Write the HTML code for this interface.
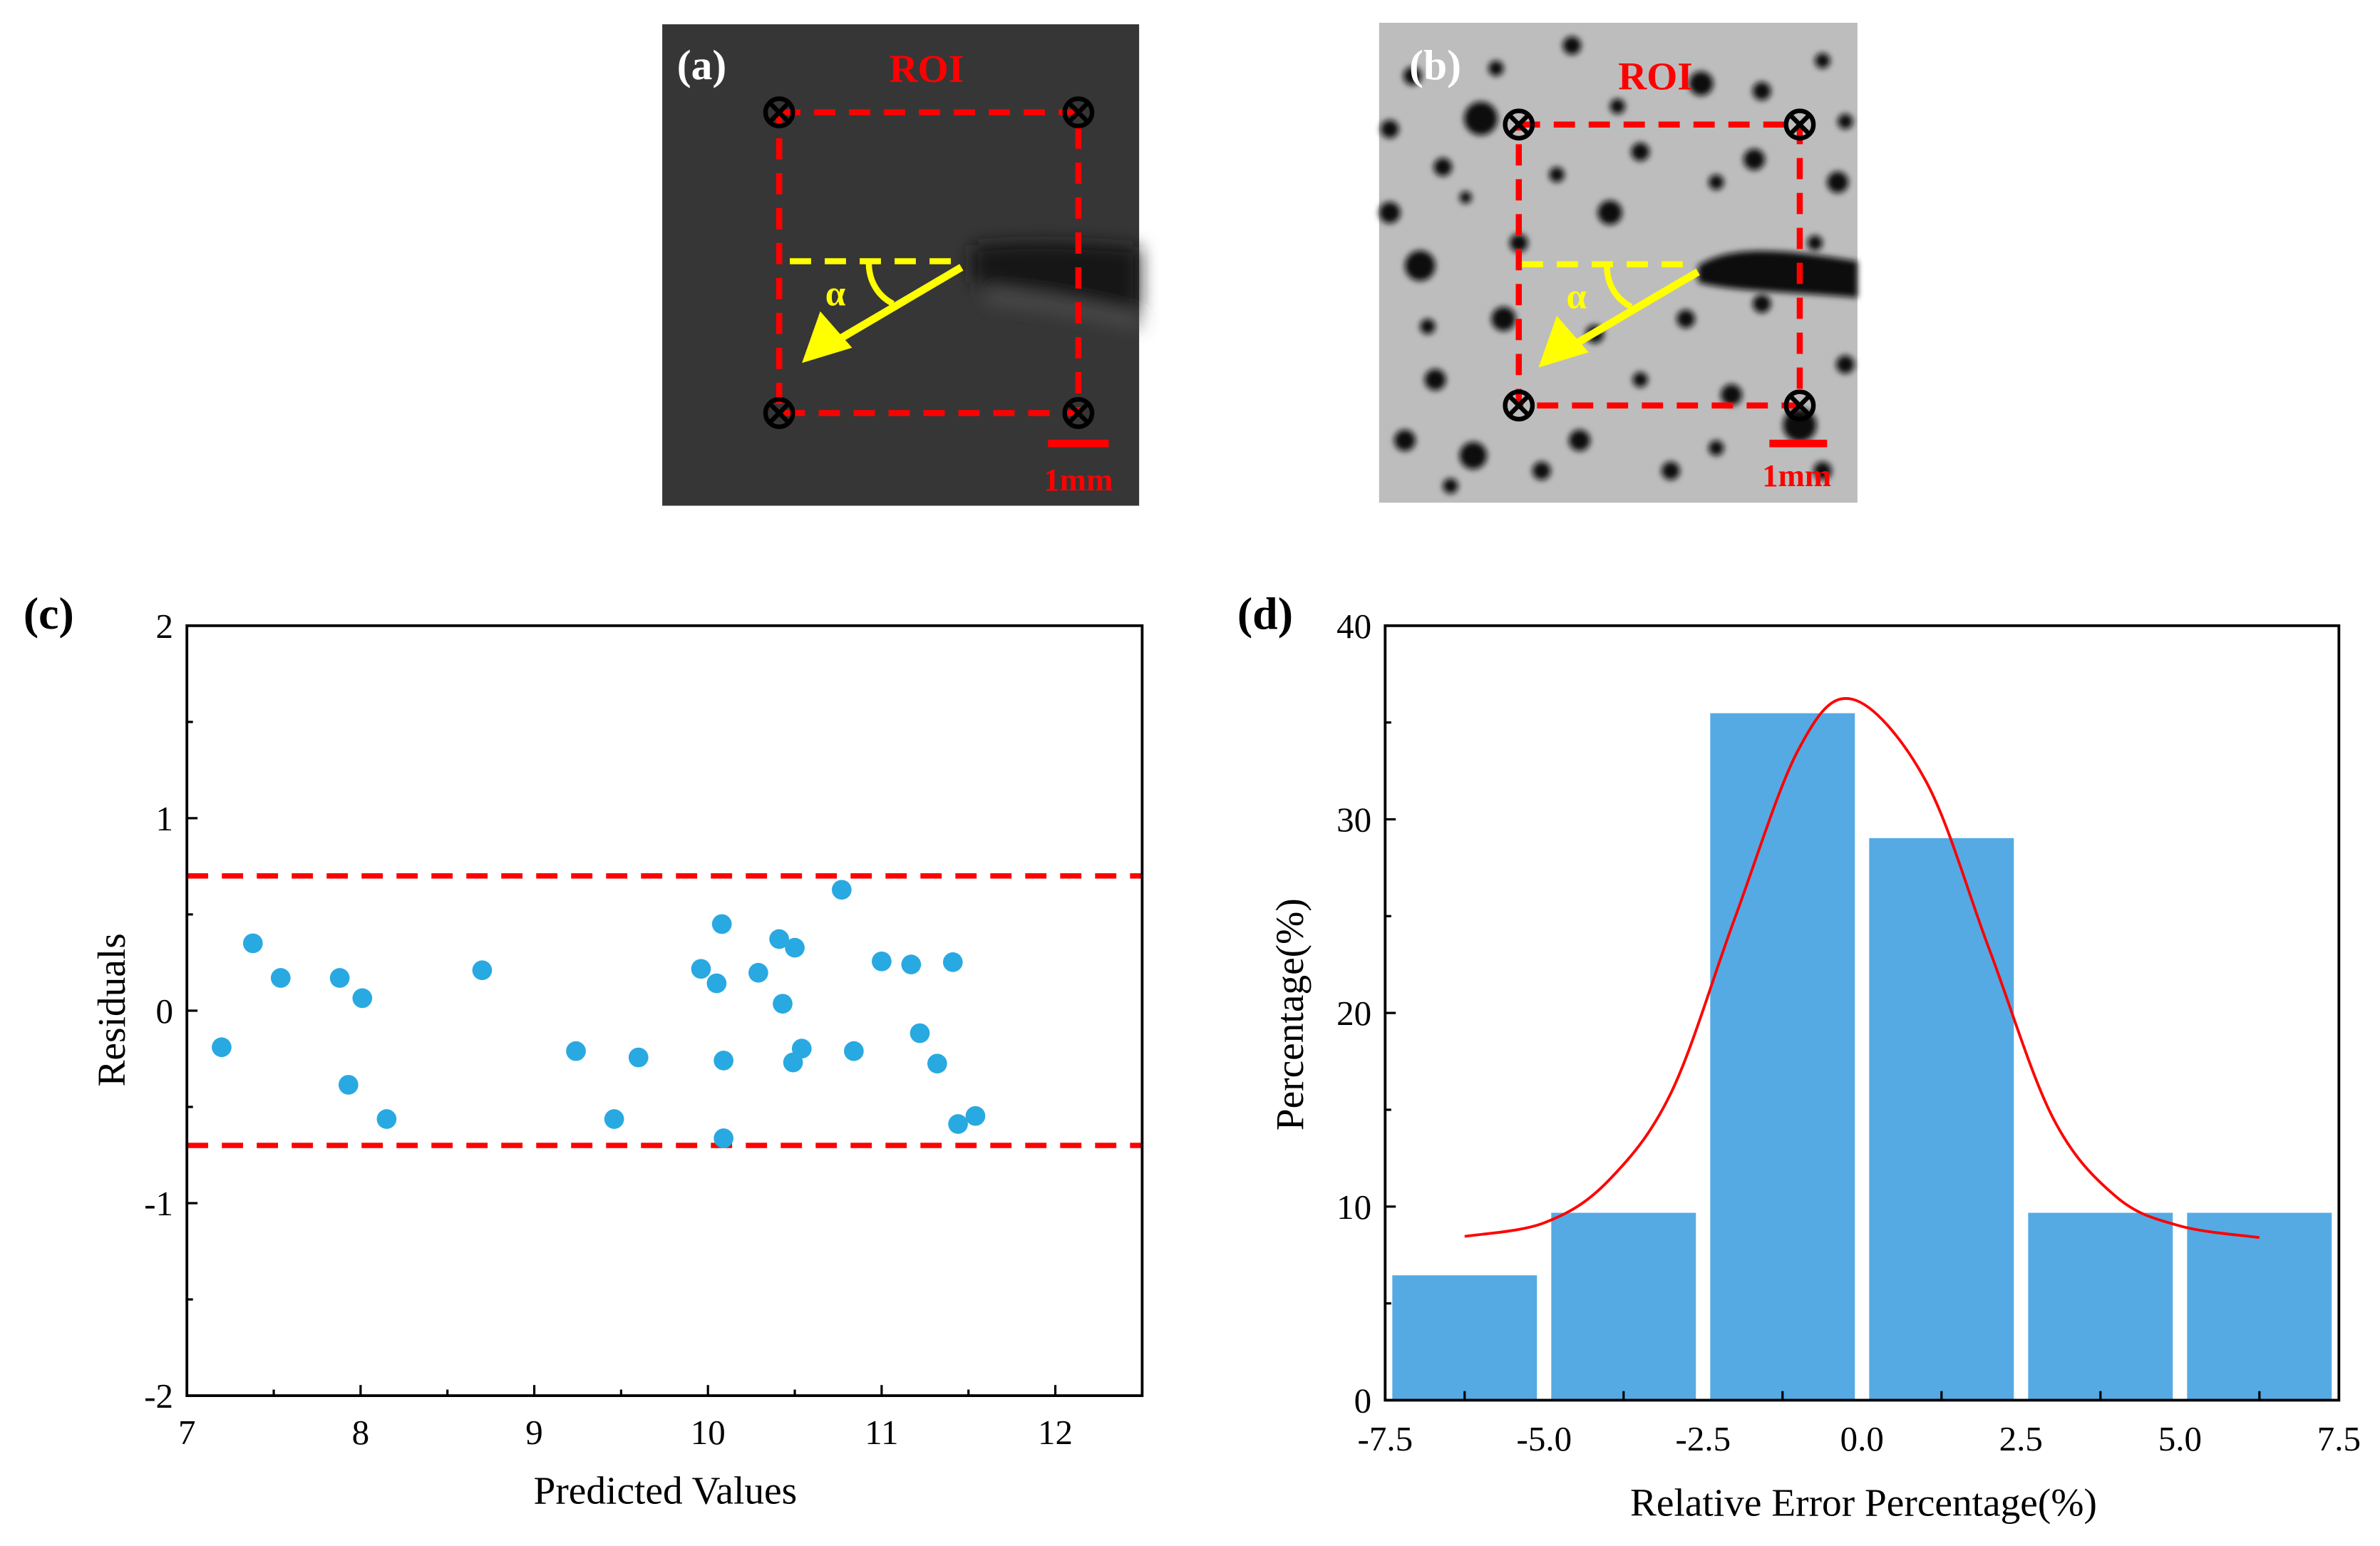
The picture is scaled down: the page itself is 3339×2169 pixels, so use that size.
<!DOCTYPE html>
<html><head><meta charset="utf-8"><title>Residuals and error distribution</title>
<style>
html,body{margin:0;padding:0;background:#fff;}
svg{display:block;}
text{font-family:"Liberation Serif",serif;}
</style></head>
<body>
<svg id="fig" width="3339" height="2169" viewBox="0 0 1567 1018" xmlns="http://www.w3.org/2000/svg">
  <defs>
    <filter id="blur" x="-20%" y="-50%" width="140%" height="200%"><feGaussianBlur stdDeviation="6"/></filter>
    <filter id="blur2" x="-20%" y="-50%" width="140%" height="200%"><feGaussianBlur stdDeviation="2"/></filter>
  </defs>
  <!-- Panel (a) -->
  <g>
    <rect x="436" y="16" width="314" height="317" fill="#363636"/>
    <g filter="url(#blur)">
      <path d="M640,162 C680,158 715,160 750,163 L750,205 C715,200 680,192 640,186 Z" fill="#121212"/>
      <path d="M650,195 C690,198 720,205 750,212" stroke="#555" stroke-width="7" fill="none"/>
    </g>
    <rect x="513" y="74" width="197" height="198" fill="none" stroke="#ff0000" stroke-width="4" stroke-dasharray="14,9"/>
    <g stroke="#000" stroke-width="3" fill="none">
      <circle cx="513" cy="74" r="9"/><path d="M507,68 L519,80 M519,68 L507,80"/>
      <circle cx="710" cy="74" r="9"/><path d="M704,68 L716,80 M716,68 L704,80"/>
      <circle cx="513" cy="272" r="9"/><path d="M507,266 L519,278 M519,266 L507,278"/>
      <circle cx="710" cy="272" r="9"/><path d="M704,266 L716,278 M716,266 L704,278"/>
    </g>
    <line x1="520" y1="172" x2="633" y2="172" stroke="#ffff00" stroke-width="4" stroke-dasharray="14,9"/>
    <line x1="633" y1="176" x2="548" y2="226" stroke="#ffff00" stroke-width="5"/>
    <polygon points="528,239 540,205 561,229" fill="#ffff00"/>
    <path d="M572,173 C572,185 578,195 588,200" stroke="#ffff00" stroke-width="4" fill="none"/>
    <text x="550" y="201" font-size="24" font-weight="bold" fill="#ffff00" text-anchor="middle">α</text>
    <text x="462" y="52" font-size="28" font-weight="bold" fill="#fff" text-anchor="middle">(a)</text>
    <text x="610" y="54" font-size="26" font-weight="bold" fill="#ff0000" text-anchor="middle">ROI</text>
    <line x1="690" y1="292" x2="730" y2="292" stroke="#ff0000" stroke-width="5"/>
    <text x="710" y="323" font-size="21" font-weight="bold" fill="#ff0000" text-anchor="middle">1mm</text>
  </g>

  <!-- Panel (b) -->
  <g>
    <rect x="908" y="15" width="315" height="316" fill="#bdbdbd"/>
    <g fill="#111" filter="url(#blur2)">
      <circle cx="935" cy="175" r="10"/><circle cx="950" cy="110" r="6"/><circle cx="1120" cy="55" r="8"/><circle cx="1160" cy="60" r="6"/>
      <circle cx="1155" cy="105" r="7"/><circle cx="1200" cy="40" r="5"/><circle cx="1000" cy="160" r="6"/><circle cx="1060" cy="140" r="8"/>
      <circle cx="1080" cy="100" r="6"/><circle cx="1130" cy="120" r="5"/><circle cx="990" cy="210" r="8"/><circle cx="945" cy="250" r="7"/>
      <circle cx="970" cy="300" r="9"/><circle cx="1040" cy="290" r="7"/><circle cx="1100" cy="310" r="6"/><circle cx="1140" cy="260" r="7"/>
      <circle cx="1185" cy="280" r="11"/><circle cx="1215" cy="240" r="6"/><circle cx="1210" cy="120" r="7"/><circle cx="930" cy="50" r="6"/>
      <circle cx="985" cy="45" r="5"/><circle cx="1035" cy="30" r="6"/><circle cx="1050" cy="220" r="6"/><circle cx="1160" cy="200" r="6"/>
      <circle cx="1080" cy="250" r="5"/><circle cx="915" cy="140" r="7"/><circle cx="955" cy="320" r="5"/><circle cx="1200" cy="310" r="6"/>
      <circle cx="1025" cy="115" r="5"/><circle cx="1110" cy="210" r="6"/><circle cx="940" cy="215" r="5"/><circle cx="975" cy="78" r="11"/>
      <circle cx="915" cy="85" r="6"/><circle cx="965" cy="130" r="4"/><circle cx="1015" cy="310" r="6"/><circle cx="1065" cy="70" r="5"/>
      <circle cx="1195" cy="160" r="5"/><circle cx="925" cy="290" r="7"/><circle cx="1130" cy="295" r="5"/><circle cx="1215" cy="80" r="5"/>
    </g>
    <path d="M1118,175 C1140,160 1180,165 1223,172 L1223,196 C1180,192 1140,192 1118,186 Z" fill="#111" filter="url(#blur2)"/>
    <rect x="1000" y="82" width="185" height="185" fill="none" stroke="#ff0000" stroke-width="4" stroke-dasharray="14,9"/>
    <g stroke="#000" stroke-width="3" fill="none">
      <circle cx="1000" cy="82" r="9"/><path d="M994,76 L1006,88 M1006,76 L994,88"/>
      <circle cx="1185" cy="82" r="9"/><path d="M1179,76 L1191,88 M1191,76 L1179,88"/>
      <circle cx="1000" cy="267" r="9"/><path d="M994,261 L1006,273 M1006,261 L994,273"/>
      <circle cx="1185" cy="267" r="9"/><path d="M1179,261 L1191,273 M1191,261 L1179,273"/>
    </g>
    <line x1="1002" y1="174" x2="1116" y2="174" stroke="#ffff00" stroke-width="4" stroke-dasharray="14,9"/>
    <line x1="1118" y1="179" x2="1033" y2="229" stroke="#ffff00" stroke-width="5"/>
    <polygon points="1013,242 1025,208 1046,232" fill="#ffff00"/>
    <path d="M1058,175 C1058,187 1064,197 1074,202" stroke="#ffff00" stroke-width="4" fill="none"/>
    <text x="1038" y="203" font-size="24" font-weight="bold" fill="#ffff00" text-anchor="middle">α</text>
    <text x="945" y="52" font-size="28" font-weight="bold" fill="#fff" text-anchor="middle">(b)</text>
    <text x="1090" y="59" font-size="26" font-weight="bold" fill="#ff0000" text-anchor="middle">ROI</text>
    <line x1="1165" y1="292" x2="1203" y2="292" stroke="#ff0000" stroke-width="5"/>
    <text x="1183" y="320" font-size="21" font-weight="bold" fill="#ff0000" text-anchor="middle">1mm</text>
  </g>

  <g id="chartC"></g>
  <g id="chartD"></g>
</svg>
<script>
// ---- Panel (c) data ----
const predictedValues = [7.2,7.38,7.54,7.88,8.01,7.93,8.15,8.70,9.24,9.46,9.60,9.96,10.05,10.08,10.09,10.09,10.29,10.41,10.50,10.43,10.54,10.49,10.77,10.84,11.00,11.17,11.22,11.32,11.41,11.44,11.54];
const residualValues = [-0.19,0.35,0.17,0.17,0.065,-0.385,-0.563,0.21,-0.21,-0.563,-0.243,0.217,0.142,0.45,-0.259,-0.663,0.197,0.372,0.327,0.036,-0.197,-0.269,0.628,-0.21,0.256,0.24,-0.117,-0.275,0.252,-0.589,-0.547];
const limitValues = [0.7,-0.7];
const cXTicks = [7,8,9,10,11,12];
const cYTicks = [-2,-1,0,1,2];

// ---- Panel (d) data ----
const binCenters = [-6.25,-3.75,-1.25,1.25,3.75,6.25];
const binPercent = [6.45,9.68,35.48,29.03,9.68,9.68];
const binWidth = 2.5;
const curveX = [-6.25,-5,-4,-3,-2,-1,-0.15,1,2,3,4,5,6.25];
const curveY = [8.46,9.16,11.3,15.9,24.9,33.6,36.2,32.0,23.3,14.6,10.5,9.0,8.4];
const dXTicks = [-7.5,-5.0,-2.5,0.0,2.5,5.0,7.5];
const dYTicks = [0,10,20,30,40];

const NS = 'http://www.w3.org/2000/svg';
function mk(parent, tag, attrs, text){
  const e = document.createElementNS(NS, tag);
  for (const k in attrs) e.setAttribute(k, attrs[k]);
  if (text !== undefined) e.textContent = text;
  parent.appendChild(e);
  return e;
}

// ---------- Chart C ----------
(function(){
  const g = document.getElementById('chartC');
  const L=123, R=752, T=412, B=919;
  const xMin=7, xMax=12.5, yMin=-2, yMax=2;
  const sx = v => L + (v-xMin)/(xMax-xMin)*(R-L);
  const sy = v => B - (v-yMin)/(yMax-yMin)*(B-T);
  limitValues.forEach(v=>{
    const l = mk(g,'line',{x1:L,x2:R,y1:sy(v),y2:sy(v),stroke:'#ff0000','stroke-width':3.5,'stroke-dasharray':'14,9'});
    
    
  });
  predictedValues.forEach((x,i)=>{
    const c = mk(g,'circle',{cx:sx(x),cy:sy(residualValues[i]),r:6.5,fill:'#29a9e1'});
    
    
  });
  const frame = mk(g,'rect',{x:L,y:T,width:R-L,height:B-T,fill:'none',stroke:'#000','stroke-width':1.8});
  
  
  cXTicks.forEach(v=>{
    mk(g,'line',{x1:sx(v),x2:sx(v),y1:B,y2:B-7,stroke:'#000','stroke-width':1.5});
    if (v+0.5<=xMax) mk(g,'line',{x1:sx(v+0.5),x2:sx(v+0.5),y1:B,y2:B-4,stroke:'#000','stroke-width':1.5});
    const t = mk(g,'text',{x:sx(v),y:B+32,'font-size':23,'text-anchor':'middle'},String(v));
    
    
  });
  cYTicks.forEach(v=>{
    mk(g,'line',{x1:L,x2:L+7,y1:sy(v),y2:sy(v),stroke:'#000','stroke-width':1.5});
    if (v+0.5<=yMax) mk(g,'line',{x1:L,x2:L+4,y1:sy(v+0.5),y2:sy(v+0.5),stroke:'#000','stroke-width':1.5});
    const t = mk(g,'text',{x:L-9,y:sy(v)+8,'font-size':23,'text-anchor':'end'},String(v));
    
    
  });
  const xt = mk(g,'text',{x:438,y:990,'font-size':26,'text-anchor':'middle'},'Predicted Values');
  
  
  const yt = mk(g,'text',{x:0,y:0,'font-size':26,'text-anchor':'middle',transform:'translate(82,665) rotate(-90)'},'Residuals');
  
  
  const pl = mk(g,'text',{x:32,y:414,'font-size':30,'font-weight':'bold','text-anchor':'middle'},'(c)');
  
  
})();

// ---------- Chart D ----------
(function(){
  const g = document.getElementById('chartD');
  const L=912, R=1540, T=412, B=922;
  const xMin=-7.5, xMax=7.5, yMin=0, yMax=40;
  const sx = v => L + (v-xMin)/(xMax-xMin)*(R-L);
  const sy = v => B - (v-yMin)/(yMax-yMin)*(B-T);
  binCenters.forEach((c,i)=>{
    const x0 = sx(c-binWidth/2*0.91), x1 = sx(c+binWidth/2*0.91);
    const r = mk(g,'rect',{x:x0,y:sy(binPercent[i]),width:x1-x0,height:sy(0)-sy(binPercent[i]),fill:'#55aae4'});
    
    
  });
  const pts = curveX.map((x,i)=>[sx(x),sy(curveY[i])]);
  let d = 'M'+pts[0][0]+','+pts[0][1];
  for (let i=0;i<pts.length-1;i++){
    const p0=pts[Math.max(0,i-1)], p1=pts[i], p2=pts[i+1], p3=pts[Math.min(pts.length-1,i+2)];
    const c1=[p1[0]+(p2[0]-p0[0])/6, p1[1]+(p2[1]-p0[1])/6];
    const c2=[p2[0]-(p3[0]-p1[0])/6, p2[1]-(p3[1]-p1[1])/6];
    d += ' C'+c1[0]+','+c1[1]+' '+c2[0]+','+c2[1]+' '+p2[0]+','+p2[1];
  }
  const cv = mk(g,'path',{d:d,fill:'none',stroke:'#ff0000','stroke-width':1.8});
  
  
  const frame = mk(g,'rect',{x:L,y:T,width:R-L,height:B-T,fill:'none',stroke:'#000','stroke-width':1.8});
  
  
  binCenters.forEach(c=>{
    mk(g,'line',{x1:sx(c),x2:sx(c),y1:B,y2:B-6,stroke:'#000','stroke-width':1.5});
  });
  dXTicks.forEach(v=>{
    const t = mk(g,'text',{x:sx(v),y:B+33,'font-size':23,'text-anchor':'middle'},v.toFixed(1));
    
    
  });
  dYTicks.forEach(v=>{
    mk(g,'line',{x1:L,x2:L+7,y1:sy(v),y2:sy(v),stroke:'#000','stroke-width':1.5});
    if (v+5<=yMax) mk(g,'line',{x1:L,x2:L+4,y1:sy(v+5),y2:sy(v+5),stroke:'#000','stroke-width':1.5});
    const t = mk(g,'text',{x:L-9,y:sy(v)+8,'font-size':23,'text-anchor':'end'},String(v));
    
    
  });
  const xt = mk(g,'text',{x:1227,y:998,'font-size':26,'text-anchor':'middle'},'Relative Error Percentage(%)');
  
  
  const yt = mk(g,'text',{x:0,y:0,'font-size':26,'text-anchor':'middle',transform:'translate(858,668) rotate(-90)'},'Percentage(%)');
  
  
  const pl = mk(g,'text',{x:833,y:414,'font-size':30,'font-weight':'bold','text-anchor':'middle'},'(d)');
  
  
})();
</script>
</body></html>
